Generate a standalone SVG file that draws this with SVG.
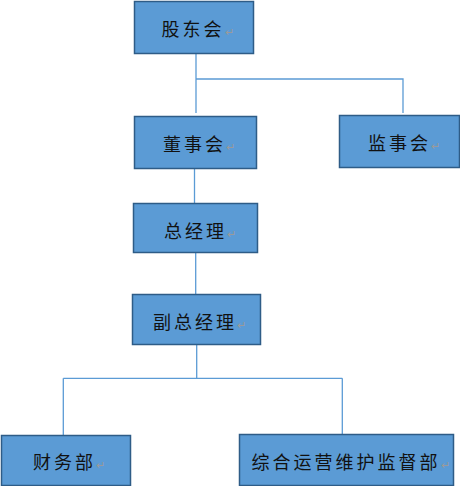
<svg xmlns="http://www.w3.org/2000/svg" width="460" height="486" viewBox="0 0 460 486">
<style>
.box{fill:#5B9BD5;stroke:#2E5C87;stroke-width:1.5}
.lbl{font-family:"Noto Sans CJK SC","Noto Sans",sans-serif;font-size:18px;letter-spacing:3px;fill:#111}
.pm{font-size:11px;fill:#9a9a9a;letter-spacing:0}
.ln{stroke:#5B9BD5;stroke-width:1.3;fill:none}
</style>
<rect width="460" height="486" fill="#fff"/>
<g id="connectors">
<path class="ln" d="M196 53V113M196 79H403V113"/>
<path class="ln" d="M194.5 168.5V203.5"/>
<path class="ln" d="M195.7 252.5V294.5"/>
<path class="ln" d="M196.7 344.5V378.3M63.3 378.3H342.3M63.3 378.3V435.5M342.3 378.3V434.5"/>
</g>
<g id="n1"><rect class="box" x="134.5" y="1.5" width="119" height="52"/><text class="lbl" x="161.5" y="36">股东会<tspan class="pm">↵</tspan></text></g>
<g id="n2"><rect class="box" x="134.5" y="116.5" width="122" height="52"/><text class="lbl" x="163" y="151">董事会<tspan class="pm">↵</tspan></text></g>
<g id="n3"><rect class="box" x="339.5" y="115.5" width="120" height="52"/><text class="lbl" x="368" y="150">监事会<tspan class="pm">↵</tspan></text></g>
<g id="n4"><rect class="box" x="133.5" y="203.5" width="124" height="49"/><text class="lbl" x="164" y="237.5">总经理<tspan class="pm">↵</tspan></text></g>
<g id="n5"><rect class="box" x="132.5" y="294.5" width="128" height="50"/><text class="lbl" x="153" y="328.5">副总经理<tspan class="pm">↵</tspan></text></g>
<g id="n6"><rect class="box" x="1.5" y="435.5" width="129" height="50"/><text class="lbl" x="33" y="469">财务部<tspan class="pm">↵</tspan></text></g>
<g id="n7"><rect class="box" x="239.5" y="434.5" width="214" height="51"/><text class="lbl" x="251.5" y="468.5">综合运营维护监督部<tspan class="pm">↵</tspan></text></g>
</svg>
